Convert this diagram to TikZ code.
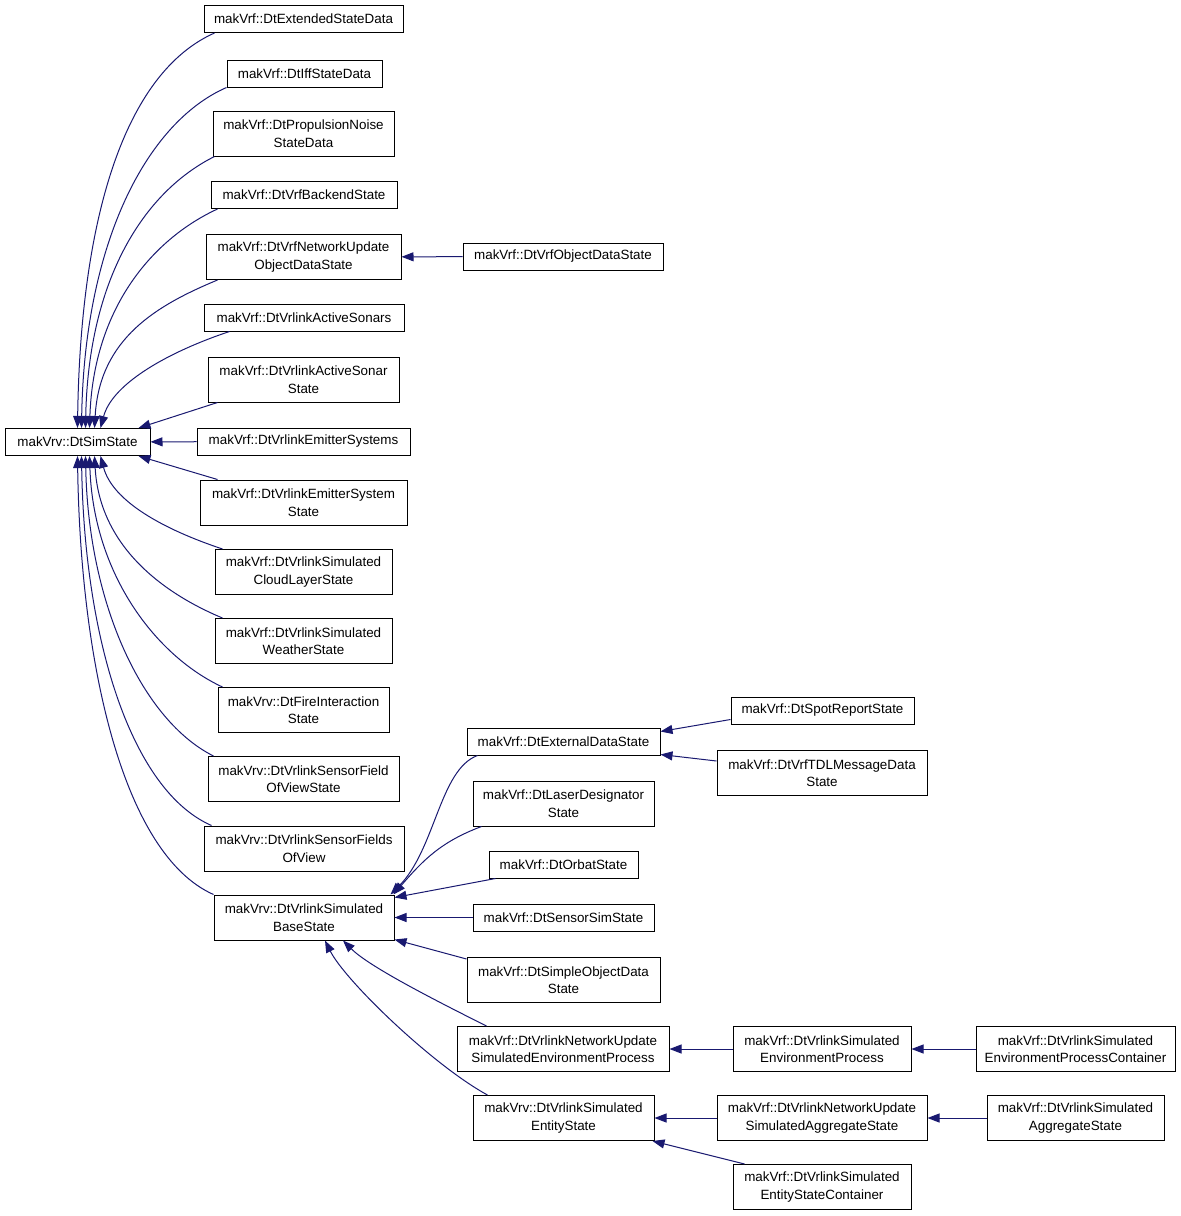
\documentclass[tikz,border=0pt]{standalone}
\usepackage{fontspec}
\setmainfont{Liberation Sans}
\usetikzlibrary{arrows.meta}
\definecolor{edgeblue}{RGB}{25,25,112}
\tikzset{
  cls/.style={draw, line width=1pt, inner sep=0pt, minimum height=27, align=center,
    font=\fontsize{13.4}{17.5}\selectfont},
  cls2/.style={cls, minimum height=45},
  inh/.style={draw=edgeblue, line width=1pt, -{Triangle[length=12pt,width=9pt]}}
}
\begin{document}
\begin{tikzpicture}[x=1pt, y=1pt]
  \useasboundingbox (0,0) rectangle (1181,-1216);
  % root
  \node [cls, minimum width=145] (sim) at (77.5,-442) {makVrv::DtSimState};
  % direct subclasses
  \node [cls, minimum width=199] (ext) at (303.5,-19) {makVrf::DtExtendedStateData};
  \node [cls, minimum width=155] (iff) at (304.5,-73.5) {makVrf::DtIffStateData};
  \node [cls2, minimum width=181] (prop) at (303.5,-133.5) {makVrf::DtPropulsionNoise\\StateData};
  \node [cls, minimum width=186] (backend) at (304,-195) {makVrf::DtVrfBackendState};
  \node [cls2, minimum width=195] (netupd) at (303.5,-257) {makVrf::DtVrfNetworkUpdate\\ObjectDataState};
  \node [cls, minimum width=200] (sonars) at (304,-317.5) {makVrf::DtVrlinkActiveSonars};
  \node [cls2, minimum width=191] (sonarst) at (303.5,-379.5) {makVrf::DtVrlinkActiveSonar\\State};
  \node [cls, minimum width=213] (emit) at (303.5,-441.5) {makVrf::DtVrlinkEmitterSystems};
  \node [cls2, minimum width=207] (emitst) at (303.5,-502.5) {makVrf::DtVrlinkEmitterSystem\\State};
  \node [cls2, minimum width=177] (cloud) at (303.5,-572) {makVrf::DtVrlinkSimulated\\CloudLayerState};
  \node [cls2, minimum width=177] (weather) at (303.5,-641) {makVrf::DtVrlinkSimulated\\WeatherState};
  \node [cls2, minimum width=171] (fire) at (303.5,-710) {makVrv::DtFireInteraction\\State};
  \node [cls2, minimum width=191] (sfield) at (303.5,-779) {makVrv::DtVrlinkSensorField\\OfViewState};
  \node [cls2, minimum width=200] (sfields) at (304,-848.5) {makVrv::DtVrlinkSensorFields\\OfView};
  \node [cls2, minimum width=180] (base) at (304,-917.5) {makVrv::DtVrlinkSimulated\\BaseState};
  \node [cls, minimum width=200] (objds) at (563,-256.5) {makVrf::DtVrfObjectDataState};
  % below BaseState
  \node [cls, minimum width=193] (extd) at (563.5,-741.5) {makVrf::DtExternalDataState};
  \node [cls2, minimum width=181] (laser) at (563.5,-803.5) {makVrf::DtLaserDesignator\\State};
  \node [cls, minimum width=149] (orbat) at (563.5,-864.5) {makVrf::DtOrbatState};
  \node [cls, minimum width=181] (sensim) at (563.5,-917.5) {makVrf::DtSensorSimState};
  \node [cls2, minimum width=193] (simple) at (563.5,-980) {makVrf::DtSimpleObjectData\\State};
  \node [cls2, minimum width=212] (netenv) at (563,-1049) {makVrf::DtVrlinkNetworkUpdate\\SimulatedEnvironmentProcess};
  \node [cls2, minimum width=181] (entity) at (563.5,-1118) {makVrv::DtVrlinkSimulated\\EntityState};
  \node [cls, minimum width=183] (spot) at (822.5,-710.5) {makVrf::DtSpotReportState};
  \node [cls2, minimum width=210] (tdl) at (822,-773) {makVrf::DtVrfTDLMessageData\\State};
  \node [cls2, minimum width=178] (envproc) at (822,-1049) {makVrf::DtVrlinkSimulated\\EnvironmentProcess};
  \node [cls2, minimum width=199] (envcont) at (1075.5,-1049) {makVrf::DtVrlinkSimulated\\EnvironmentProcessContainer};
  \node [cls2, minimum width=210] (aggnet) at (822,-1118) {makVrf::DtVrlinkNetworkUpdate\\SimulatedAggregateState};
  \node [cls2, minimum width=177] (agg) at (1075.5,-1118) {makVrf::DtVrlinkSimulated\\AggregateState};
  \node [cls2, minimum width=178] (entcont) at (822,-1187) {makVrf::DtVrlinkSimulated\\EntityStateContainer};
  % edges into DtSimState
  \draw [inh] ([xshift=11]ext.south west) .. controls +(-90,-40) and +(3,210) .. ([xshift=73]sim.north west);
  \draw [inh] (iff.south west) .. controls +(-80,-35) and +(3,185) .. ([xshift=77]sim.north west);
  \draw [inh] ([xshift=2]prop.south west) .. controls +(-70,-35) and +(3,150) .. ([xshift=81]sim.north west);
  \draw [inh] ([xshift=7]backend.south west) .. controls +(-65,-30) and +(4,120) .. ([xshift=85]sim.north west);
  \draw [inh] ([xshift=12]netupd.south west) .. controls +(-60,-25) and +(5,90) .. ([xshift=90]sim.north west);
  \draw [inh] ([xshift=26]sonars.south west) .. controls +(-60,-20) and +(12,45) .. ([xshift=96]sim.north west);
  \draw [inh] ([xshift=10]sonarst.south west) -- ([xshift=-12]sim.north east);
  \draw [inh] (emit) -- (sim);
  \draw [inh] ([xshift=18]emitst.north west) -- ([xshift=-12]sim.south east);
  \draw [inh] ([xshift=8]cloud.north west) .. controls +(-60,20) and +(12,-45) .. ([xshift=96]sim.south west);
  \draw [inh] ([xshift=8]weather.north west) .. controls +(-60,25) and +(5,-90) .. ([xshift=90]sim.south west);
  \draw [inh] ([xshift=5]fire.north west) .. controls +(-65,30) and +(4,-120) .. ([xshift=85]sim.south west);
  \draw [inh] ([xshift=6]sfield.north west) .. controls +(-70,35) and +(3,-150) .. ([xshift=81]sim.south west);
  \draw [inh] ([xshift=8]sfields.north west) .. controls +(-80,35) and +(3,-185) .. ([xshift=77]sim.south west);
  \draw [inh] (base.north west) .. controls +(-90,40) and +(3,-210) .. ([xshift=73]sim.south west);
  \draw [inh] (objds) -- (netupd);
  % edges into BaseState
  \draw [inh] ([xshift=11]extd.south west) .. controls +(-38,-14) and +(45,45) .. ([xshift=-4]base.north east);
  \draw [inh] ([xshift=9]laser.south west) .. controls +(-40,-15) and +(30,35) .. ([xshift=-1]base.north east);
  \draw [inh] ([xshift=7]orbat.south west) -- ([yshift=-3]base.north east);
  \draw [inh] (sensim) -- (base);
  \draw [inh] ([yshift=-2]simple.north west) -- ([yshift=1]base.south east);
  \draw [inh] ([xshift=30]netenv.north west) .. controls +(-60,30) and +(25,-25) .. ([xshift=39]base.south);
  \draw [inh] ([xshift=15]entity.north west) .. controls +(-55,30) and +(20,-40) .. ([xshift=21]base.south);
  % further levels
  \draw [inh] ([yshift=-9]spot.west) -- ([yshift=10]extd.east);
  \draw [inh] ([yshift=12]tdl.west) -- ([yshift=-13]extd.east);
  \draw [inh] (envproc) -- (netenv);
  \draw [inh] (envcont) -- (envproc);
  \draw [inh] (aggnet) -- (entity);
  \draw [inh] (agg) -- (aggnet);
  \draw [inh] ([xshift=12]entcont.north west) -- ([xshift=-2]entity.south east);
\end{tikzpicture}
\end{document}
